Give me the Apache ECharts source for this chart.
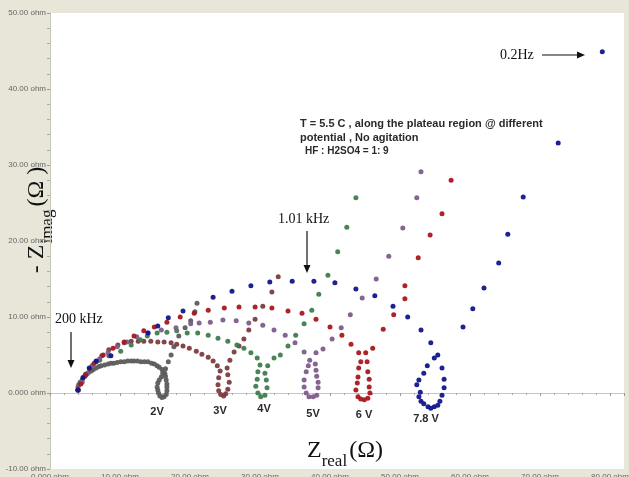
<!DOCTYPE html>
<html>
<head>
<meta charset="utf-8">
<script src="https://cdn.jsdelivr.net/npm/echarts@6/dist/echarts.min.js"></script>
<style>
    html, body { margin: 0; padding: 0; background: #e8e6d8; overflow: hidden; }
    #main { width: 629px; height: 477px; }
</style>
</head>
<body>
<div id="main"></div>
<script>
    // Nyquist data, Zreal / -Zimag in ohm
    var names = ['2V', '3V', '4V', '5V', '6V', '7.8V'];
    var colors = ['#5c5c5c', '#7d3c3e', '#3f7d4e', '#7e5c8c', '#a8181e', '#10168a'];

    var v2 = [[4.0,0.4],[4.0,0.8],[4.1,1.1],[4.3,1.4],[4.6,1.7],[4.8,2.1],[5.1,2.4],[5.5,2.7],[5.9,2.9],[6.2,3.1],
        [6.6,3.3],[7.0,3.5],[7.3,3.6],[7.8,3.7],[8.3,3.8],[8.7,3.9],[9.1,3.9],[9.6,4.0],[10.1,4.1],[10.6,4.1],
        [11.1,4.2],[11.6,4.2],[12.0,4.2],[12.5,4.2],[13.0,4.1],[13.5,4.1],[14.0,4.1],[14.5,3.9],[14.9,3.8],[15.3,3.6],
        [15.6,3.4],[16.0,3.1],[16.1,2.6],[15.9,2.1],[15.6,1.7],[15.4,1.3],[15.3,0.8],[15.4,0.4],[15.5,0.0],[15.7,-0.4],
        [16.0,-0.6],[16.3,-0.5],[16.6,-0.2],[16.7,0.3],[16.7,0.8],[16.7,1.2],[16.6,1.7],[16.5,2.2],[16.4,2.6],[16.5,3.2],
        [16.9,4.1],[17.3,5.0],[17.7,6.1],[18.4,7.5],[19.3,8.6],[20.1,9.5],[20.7,10.7],[21.0,11.8]];

    var v3 = [[4.0,0.4],[4.4,1.3],[5.0,2.2],[5.7,3.2],[6.6,4.1],[7.4,4.9],[8.4,5.7],[9.7,6.3],[10.6,6.6],[11.6,6.8],
        [12.6,6.8],[13.4,6.8],[14.4,6.8],[15.4,6.7],[16.3,6.7],[17.3,6.6],[18.1,6.4],[19.0,6.2],[19.9,5.9],[20.9,5.5],
        [21.7,5.1],[22.6,4.7],[23.3,4.2],[23.9,3.6],[24.3,2.9],[24.1,2.0],[24.0,1.1],[24.1,0.3],[24.4,-0.2],[24.8,-0.4],
        [25.1,-0.1],[25.4,0.5],[25.6,1.4],[25.4,2.4],[25.3,3.3],[25.7,4.3],[26.3,5.4],[27.0,6.2],[27.7,7.1],[28.4,8.3],
        [29.3,9.7],[30.4,11.4],[31.7,13.3],[32.6,15.3]];

    var v4 = [[4.0,0.4],[4.4,1.4],[5.1,2.5],[6.0,3.6],[7.1,4.3],[8.4,4.9],[10.1,5.5],[11.6,6.3],[12.9,7.0],[13.9,7.5],
        [15.3,7.9],[16.7,8.0],[18.1,8.2],[19.6,7.9],[21.1,7.9],[22.6,7.6],[24.0,7.2],[25.4,6.8],[26.7,6.3],[27.7,5.9],
        [28.7,5.3],[29.6,4.6],[30.0,3.7],[29.7,2.8],[29.6,1.8],[29.4,0.9],[29.7,0.0],[30.1,-0.5],[30.7,-0.3],[31.0,0.7],
        [30.9,1.7],[30.7,2.6],[31.1,3.6],[32.0,4.6],[32.9,5.0],[34.0,6.2],[35.1,7.6],[36.3,9.1],[37.4,10.9],[38.4,13.0],
        [39.7,15.5],[41.1,18.6],[42.4,21.8],[43.7,25.7]];

    var v5 = [[4.0,0.4],[4.6,1.4],[5.3,2.5],[6.1,3.6],[7.1,4.5],[8.3,5.3],[9.6,6.1],[11.0,6.7],[12.4,7.4],[14.0,7.9],
        [15.9,8.3],[18.0,8.6],[20.1,9.1],[21.3,9.2],[22.9,9.3],[24.7,9.6],[26.6,9.5],[28.4,9.2],[30.4,8.9],[32.0,8.3],
        [33.6,7.6],[35.0,6.6],[36.3,5.4],[37.1,4.3],[36.9,3.6],[36.6,2.8],[36.3,1.7],[36.3,0.8],[36.6,0.0],[37.0,-0.5],
        [37.6,-0.5],[38.1,-0.3],[38.3,0.7],[38.3,1.4],[38.1,2.2],[38.0,3.0],[37.9,3.8],[38.0,5.3],[39.0,5.8],[40.3,7.1],
        [41.6,8.6],[42.9,10.3],[44.6,12.5],[46.6,15.0],[48.4,18.0],[50.4,21.7],[52.4,25.7],[53.0,29.1]];

    var v6 = [[4.0,0.4],[4.4,1.2],[5.1,2.4],[6.3,3.9],[7.6,5.0],[9.0,5.9],[10.6,6.7],[12.0,7.5],[13.4,8.2],[14.9,8.7],
        [16.7,9.3],[18.6,10.0],[20.6,10.5],[22.6,10.9],[24.9,11.2],[27.0,11.3],[29.3,11.3],[31.7,11.2],[34.0,10.8],[36.0,10.5],
        [38.0,9.7],[40.0,8.7],[41.7,7.6],[43.0,6.4],[44.1,5.3],[44.4,4.1],[44.1,3.3],[44.0,2.1],[43.9,1.3],[43.7,0.4],
        [44.0,-0.5],[44.4,-0.8],[44.9,-0.9],[45.4,-0.7],[45.7,0.0],[45.6,0.8],[45.6,1.8],[45.4,2.8],[45.3,4.1],[45.1,5.3],
        [46.1,5.9],[47.6,8.4],[49.1,10.3],[50.7,12.4],[50.7,14.1],[52.6,17.8],[54.3,20.8],[56.0,23.6],[57.3,28.0]];

    var v78 = [[4.0,0.4],[4.7,2.0],[5.6,3.3],[6.6,4.2],[8.7,4.9],[14.0,7.9],[15.4,8.8],[16.9,9.9],[19.0,10.8],[23.3,12.6],
        [26.0,13.4],[28.7,14.1],[31.4,14.6],[34.6,14.7],[37.7,14.7],[40.7,14.5],[43.7,13.7],[46.4,12.8],[49.0,11.4],[51.1,10.0],
        [53.0,8.3],[54.4,6.6],[55.4,5.0],[54.9,4.6],[53.9,3.6],[53.4,2.6],[52.7,1.7],[52.4,1.1],[52.9,0.1],[52.7,-0.5],
        [53.0,-1.1],[53.4,-1.4],[54.0,-1.8],[54.4,-2.0],[54.9,-1.8],[55.4,-1.6],[55.7,-1.1],[56.0,-0.3],[56.3,0.7],[56.3,1.8],
        [56.0,3.3],[59.0,8.7],[60.4,11.1],[62.0,13.8],[64.1,17.1],[65.4,20.9],[67.6,25.8],[72.6,32.9],[78.9,44.9]];

    var allData = [v2, v3, v4, v5, v6, v78];

    var serif = '"Liberation Serif", "Times New Roman", serif';
    var sans = '"Liberation Sans", Arial, sans-serif';

    function ohm(v) {
        return v === 0 ? '0.000 ohm' : v.toFixed(2) + ' ohm';
    }

    function arrow(x1, y1, x2, y2) {
        var a = Math.atan2(y2 - y1, x2 - x1), L = 8, W = 3.5;
        var bx = x2 - L * Math.cos(a), by = y2 - L * Math.sin(a);
        return [
            { type: 'line', shape: { x1: x1, y1: y1, x2: bx, y2: by }, style: { stroke: '#111', lineWidth: 1.2 } },
            { type: 'polygon', shape: { points: [[x2, y2],
                [bx + W * Math.sin(a), by - W * Math.cos(a)],
                [bx - W * Math.sin(a), by + W * Math.cos(a)]] }, style: { fill: '#111' } }
        ];
    }

    var labelPos = [[157, 412], [220, 411], [264, 409], [313, 414], [364, 415], [426, 419]];
    var labelTxt = ['2V', '3V', '4V', '5V', '6 V', '7.8 V'];

    var graphics = [];
    labelTxt.forEach(function (t, i) {
        graphics.push({ type: 'text', x: labelPos[i][0], y: labelPos[i][1],
            style: { text: t, fill: '#2a2a2a', font: 'bold 11px ' + sans, textAlign: 'center', textVerticalAlign: 'middle' } });
    });
    graphics.push(
        { type: 'text', x: 55, y: 319, style: { text: '200 kHz', fill: '#111', font: '14px ' + serif, textVerticalAlign: 'middle' } },
        { type: 'text', x: 278, y: 219, style: { text: '1.01 kHz', fill: '#111', font: '14px ' + serif, textVerticalAlign: 'middle' } },
        { type: 'text', x: 500, y: 55, style: { text: '0.2Hz', fill: '#111', font: '14px ' + serif, textVerticalAlign: 'middle' } },
        { type: 'text', x: 300, y: 117, style: { text: 'T = 5.5 C , along the plateau region @ different\npotential , No agitation',
            fill: '#2a2a2a', font: 'bold 11px ' + sans, lineHeight: 14 } },
        { type: 'text', x: 305, y: 146, style: { text: 'HF : H2SO4 = 1: 9', fill: '#2a2a2a', font: 'bold 10px ' + sans } },
        { type: 'text', x: 307, y: 451, style: {
            text: '{a|Z}{b|real}{a|(Ω)}', textVerticalAlign: 'middle',
            rich: { a: { fontSize: 24, fontFamily: serif, fill: '#111', verticalAlign: 'bottom' },
                    b: { fontSize: 17, fontFamily: serif, fill: '#111', verticalAlign: 'bottom', padding: [0, 2, -7, 0] } } } },
        { type: 'text', x: 37, y: 220, rotation: Math.PI / 2, style: {
            text: '{a|- Z}{b|imag}{a|(Ω )}', textAlign: 'center', textVerticalAlign: 'middle',
            rich: { a: { fontSize: 24, fontFamily: serif, fill: '#111', verticalAlign: 'bottom' },
                    b: { fontSize: 17, fontFamily: serif, fill: '#111', verticalAlign: 'bottom', padding: [0, 3, -7, 1] } } } }
    );
    graphics = graphics.concat(arrow(71, 332, 71, 368), arrow(307, 231, 307, 273), arrow(542, 55, 585, 55));

    var chart = echarts.init(document.getElementById('main'));
    chart.setOption({
        backgroundColor: '#e8e6d8',
        animation: false,
        grid: { left: 50, top: 13, right: 5, bottom: 8, outerBoundsMode: 'none', containLabel: false,
            show: true, backgroundColor: '#ffffff', borderWidth: 0 },
        xAxis: {
            type: 'value', min: 0, max: 82, interval: 10,
            axisLine: { show: true, lineStyle: { color: '#c8c6b8' } },
            axisTick: { show: true, inside: false, length: 3, lineStyle: { color: '#999' } },
            minorTick: { show: true, splitNumber: 5, length: 2, lineStyle: { color: '#aaa' } },
            splitLine: { show: false },
            axisLabel: { formatter: ohm, color: '#666', fontSize: 8, fontFamily: sans, margin: 4 }
        },
        yAxis: {
            type: 'value', min: -10, max: 50, interval: 10,
            axisLine: { show: true, lineStyle: { color: '#c8c6b8' } },
            axisTick: { show: true, length: 3, lineStyle: { color: '#999' } },
            minorTick: { show: true, splitNumber: 5, length: 3, lineStyle: { color: '#aaa' } },
            splitLine: { show: false },
            axisLabel: { formatter: ohm, color: '#666', fontSize: 8, fontFamily: sans, margin: 4 }
        },
        series: allData.map(function (d, i) {
            return { name: names[i], type: 'scatter', data: d, symbol: 'circle', symbolSize: 5,
                itemStyle: { color: colors[i], opacity: 0.95 } };
        }),
        graphic: graphics
    });
</script>
</body>
</html>
